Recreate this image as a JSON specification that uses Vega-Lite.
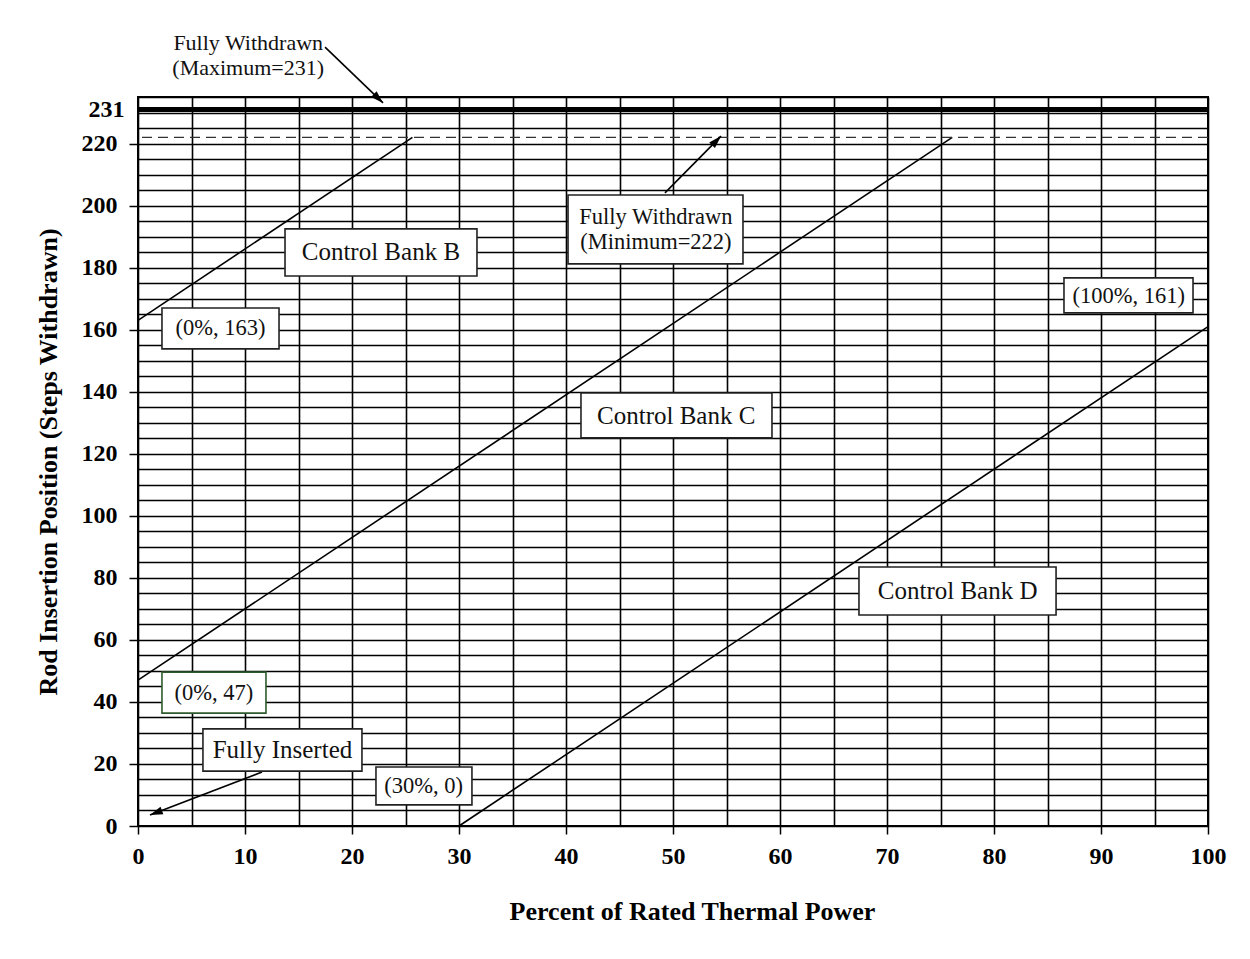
{
  "$schema": "https://vega.github.io/schema/vega-lite/v6.json",
  "width": 1070,
  "height": 729,
  "autosize": "none",
  "padding": {"left": 138, "top": 97, "right": 42, "bottom": 133},
  "background": "white",
  "config": {
    "view": {"stroke": "#000", "strokeWidth": 2},
    "font": "Liberation Serif"
  },
  "resolve": {"axis": {"y": "independent"}},
  "datasets": {
    "banks": [
      {"bank": "B", "power": 0, "steps": 163},
      {"bank": "B", "power": 25.65, "steps": 222},
      {"bank": "C", "power": 0, "steps": 47},
      {"bank": "C", "power": 76.1, "steps": 222},
      {"bank": "D", "power": 30, "steps": 0},
      {"bank": "D", "power": 100, "steps": 161}
    ],
    "refs": [
      {"limit": "Maximum", "steps": 231},
      {"limit": "Minimum", "steps": 222}
    ],
    "boxes": [
      {"label": "Control Bank B", "kind": "bank", "power": 13.74, "power2": 31.68, "steps": 192.5, "steps2": 177.3, "labelPower": 22.7, "labelSteps": 184.9},
      {"label": "(0%, 163)", "kind": "note", "power": 2.24, "power2": 13.18, "steps": 167.0, "steps2": 153.8, "labelPower": 7.7, "labelSteps": 160.4},
      {"label": "Fully Withdrawn\n(Minimum=222)", "kind": "note", "power": 40.19, "power2": 56.54, "steps": 203.4, "steps2": 181.2, "labelPower": 48.4, "labelSteps": 196.3},
      {"label": "(100%, 161)", "kind": "note", "power": 86.54, "power2": 98.6, "steps": 176.7, "steps2": 165.4, "labelPower": 92.6, "labelSteps": 171.0},
      {"label": "Control Bank C", "kind": "bank", "power": 41.4, "power2": 59.25, "steps": 139.6, "steps2": 125.1, "labelPower": 50.3, "labelSteps": 132.3},
      {"label": "Control Bank D", "kind": "bank", "power": 67.38, "power2": 85.8, "steps": 83.5, "steps2": 68.0, "labelPower": 76.6, "labelSteps": 75.8},
      {"label": "(0%, 47)", "kind": "note", "power": 2.24, "power2": 11.96, "steps": 49.6, "steps2": 36.4, "labelPower": 7.1, "labelSteps": 43.0},
      {"label": "Fully Inserted", "kind": "bank", "power": 6.07, "power2": 20.93, "steps": 31.3, "steps2": 17.7, "labelPower": 13.5, "labelSteps": 24.5},
      {"label": "(30%, 0)", "kind": "note", "power": 22.24, "power2": 31.21, "steps": 19.0, "steps2": 6.8, "labelPower": 26.7, "labelSteps": 12.9}
    ],
    "freeText": [
      {"label": "Fully Withdrawn\n(Maximum=231)", "labelPower": 10.3, "labelSteps": 252.4}
    ],
    "arrows": [
      {"arrow": "max", "power": 17.48, "steps": 251.1, "power2": 22.9, "steps2": 233.1},
      {"arrow": "min", "power": 49.25, "steps": 204.1, "power2": 54.49, "steps2": 222.4},
      {"arrow": "inserted", "power": 11.59, "steps": 17.4, "power2": 1.12, "steps2": 3.55}
    ]
  },
  "layer": [
    {
      "data": {"name": "banks"},
      "mark": {"type": "line", "color": "#000", "strokeWidth": 1.6},
      "encoding": {
        "x": {
          "field": "power", "type": "quantitative",
          "scale": {"domain": [0, 100], "nice": false, "zero": false},
          "axis": {
            "title": "Percent of Rated  Thermal Power",
            "values": [0,5,10,15,20,25,30,35,40,45,50,55,60,65,70,75,80,85,90,95,100],
            "grid": true, "gridColor": "#000", "gridWidth": 1.6, "gridOpacity": 1,
            "domain": false,
            "labelExpr": "datum.value % 10 === 0 ? datum.label : ''",
            "tickColor": "#000", "tickWidth": 1.5, "tickSize": 8,
            "tickOpacity": {"condition": {"test": "datum.value % 10 === 0", "value": 1}, "value": 0},
            "labelFont": "Liberation Serif", "labelFontSize": 24, "labelFontWeight": "bold", "labelColor": "#000",
            "labelPadding": 10, "labelFlush": false, "labelOverlap": false,
            "titleFont": "Liberation Serif", "titleFontSize": 26, "titleFontWeight": "bold", "titleColor": "#000",
            "titlePadding": 30, "titleX": 554
          }
        },
        "y": {
          "field": "steps", "type": "quantitative",
          "scale": {"domain": [0, 235], "nice": false, "zero": false},
          "axis": {
            "title": null,
            "orient": "left",
            "values": [0,5,10,15,20,25,30,35,40,45,50,55,60,65,70,75,80,85,90,95,100,105,110,115,120,125,130,135,140,145,150,155,160,165,170,175,180,185,190,195,200,205,210,215,220,225,230,235],
            "grid": true, "gridColor": "#000", "gridWidth": 1.6, "gridOpacity": 1,
            "domain": false, "ticks": false, "labels": false
          }
        },
        "detail": {"field": "bank", "type": "nominal"}
      }
    },
    {
      "data": {"name": "refs"},
      "transform": [{"filter": "datum.limit === 'Maximum'"}],
      "mark": {"type": "rule", "color": "#000", "strokeWidth": 5},
      "encoding": {
        "y": {
          "field": "steps", "type": "quantitative",
          "axis": {
            "title": "Rod Insertion Position (Steps  Withdrawn)",
            "orient": "left",
            "values": [0,20,40,60,80,100,120,140,160,180,200,220,231],
            "grid": false, "domain": false,
            "tickColor": "#000", "tickWidth": 1.5, "tickSize": 9,
            "tickOpacity": {"condition": {"test": "datum.value === 231", "value": 0}, "value": 1},
            "labelPadding": {"condition": {"test": "datum.value === 231", "value": 5}, "value": 12},
            "labelFont": "Liberation Serif", "labelFontSize": 24, "labelFontWeight": "bold", "labelColor": "#000",
            "labelFlush": false, "labelOverlap": false,
            "titleFont": "Liberation Serif", "titleFontSize": 26, "titleFontWeight": "bold", "titleColor": "#000",
            "titlePadding": 20
          }
        }
      }
    },
    {
      "data": {"name": "refs"},
      "transform": [{"filter": "datum.limit === 'Minimum'"}],
      "mark": {"type": "rule", "color": "#333", "strokeWidth": 1.3, "strokeDash": [10, 6]},
      "encoding": {"y": {"field": "steps", "type": "quantitative", "axis": null}}
    },
    {
      "data": {"name": "arrows"},
      "mark": {"type": "rule", "color": "#000", "strokeWidth": 1.6},
      "encoding": {
        "x": {"field": "power", "type": "quantitative"},
        "x2": {"field": "power2"},
        "y": {"field": "steps", "type": "quantitative", "axis": null},
        "y2": {"field": "steps2"}
      }
    },
    {
      "data": {"name": "arrows"},
      "transform": [{"filter": "datum.arrow === 'max'"}],
      "mark": {"type": "point", "shape": "M0,0L-0.5,1.6L0.5,1.6Z", "size": 256, "filled": true, "color": "#000", "opacity": 1, "angle": 134},
      "encoding": {
        "x": {"field": "power2", "type": "quantitative"},
        "y": {"field": "steps2", "type": "quantitative", "axis": null}
      }
    },
    {
      "data": {"name": "arrows"},
      "transform": [{"filter": "datum.arrow === 'min'"}],
      "mark": {"type": "point", "shape": "M0,0L-0.5,1.6L0.5,1.6Z", "size": 256, "filled": true, "color": "#000", "opacity": 1, "angle": 44.5},
      "encoding": {
        "x": {"field": "power2", "type": "quantitative"},
        "y": {"field": "steps2", "type": "quantitative", "axis": null}
      }
    },
    {
      "data": {"name": "arrows"},
      "transform": [{"filter": "datum.arrow === 'inserted'"}],
      "mark": {"type": "point", "shape": "M0,0L-0.5,1.6L0.5,1.6Z", "size": 256, "filled": true, "color": "#000", "opacity": 1, "angle": 249},
      "encoding": {
        "x": {"field": "power2", "type": "quantitative"},
        "y": {"field": "steps2", "type": "quantitative", "axis": null}
      }
    },
    {
      "data": {"name": "boxes"},
      "mark": {"type": "rect", "fill": "#fff", "strokeWidth": 1.6},
      "encoding": {
        "x": {"field": "power", "type": "quantitative"},
        "x2": {"field": "power2"},
        "y": {"field": "steps", "type": "quantitative", "axis": null},
        "y2": {"field": "steps2"},
        "stroke": {"condition": {"test": "datum.label === '(0%, 47)'", "value": "#2e5b2e"}, "value": "#222"}
      }
    },
    {
      "data": {"name": "boxes"},
      "transform": [{"filter": "datum.kind === 'bank'"}],
      "mark": {"type": "text", "font": "Liberation Serif", "fontSize": 25, "color": "#111", "align": "center", "baseline": "middle"},
      "encoding": {
        "x": {"field": "labelPower", "type": "quantitative"},
        "y": {"field": "labelSteps", "type": "quantitative", "axis": null},
        "text": {"field": "label"}
      }
    },
    {
      "data": {"name": "boxes"},
      "transform": [{"filter": "datum.kind === 'note'"}],
      "mark": {"type": "text", "font": "Liberation Serif", "fontSize": 22.5, "color": "#111", "align": "center", "baseline": "middle", "lineBreak": "\n", "lineHeight": 25},
      "encoding": {
        "x": {"field": "labelPower", "type": "quantitative"},
        "y": {"field": "labelSteps", "type": "quantitative", "axis": null},
        "text": {"field": "label"}
      }
    },
    {
      "data": {"name": "freeText"},
      "mark": {"type": "text", "font": "Liberation Serif", "fontSize": 22, "color": "#111", "align": "center", "baseline": "middle", "lineBreak": "\n", "lineHeight": 25},
      "encoding": {
        "x": {"field": "labelPower", "type": "quantitative"},
        "y": {"field": "labelSteps", "type": "quantitative", "axis": null},
        "text": {"field": "label"}
      }
    }
  ]
}
